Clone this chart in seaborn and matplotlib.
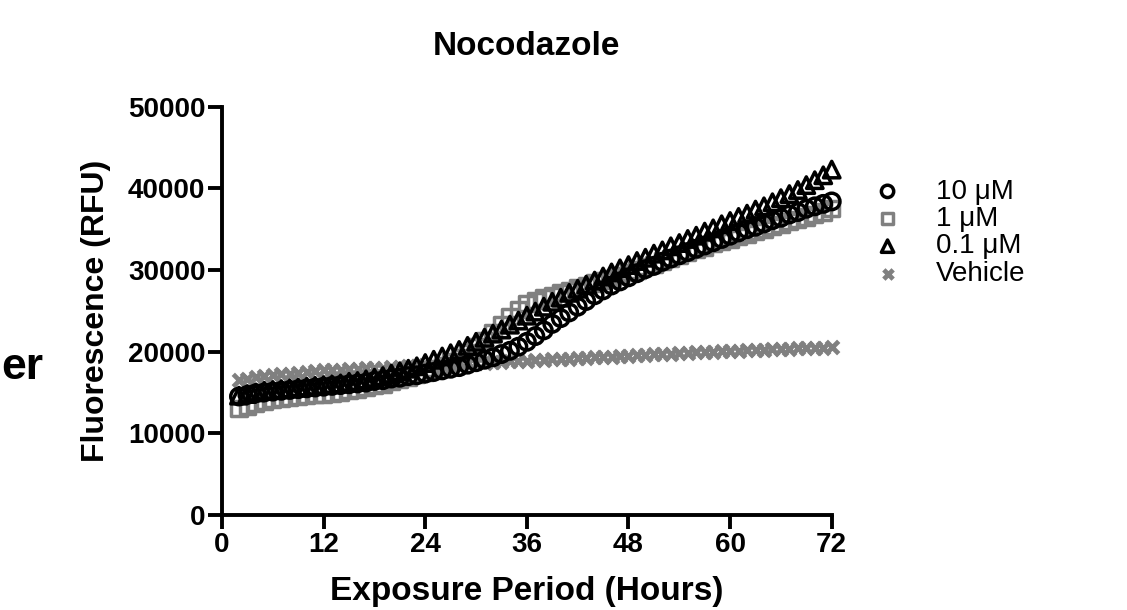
import numpy as np
import pandas as pd
import seaborn as sns
import matplotlib.pyplot as plt

hours = list(range(2, 73))

vehicle = [16500, 16700, 16900, 17000, 17100, 17200, 17300, 17400, 17500, 17600,
           17700, 17750, 17800, 17850, 17900, 17950, 18000, 18050, 18100, 18150,
           18200, 18250, 18300, 18350, 18400, 18450, 18500, 18550, 18600, 18650,
           18700, 18750, 18800, 18850, 18900, 18950, 19000, 19050, 19100, 19150,
           19200, 19250, 19300, 19350, 19400, 19450, 19500, 19550, 19600, 19650,
           19700, 19750, 19800, 19850, 19900, 19950, 20000, 20050, 20100, 20100,
           20150, 20200, 20250, 20300, 20300, 20350, 20400, 20450, 20500, 20500, 20550]

um10 = [14500, 14700, 14900, 15000, 15100, 15200, 15300, 15400, 15500, 15600,
        15700, 15800, 15900, 16000, 16100, 16200, 16400, 16500, 16700, 16800,
        17000, 17100, 17300, 17500, 17700, 17900, 18100, 18400, 18700, 19000,
        19300, 19700, 20100, 20600, 21200, 21900, 22600, 23400, 24100, 24800,
        25500, 26200, 26900, 27500, 28100, 28600, 29100, 29600, 30100, 30500,
        31000, 31400, 31800, 32200, 32600, 33000, 33400, 33800, 34200, 34600,
        35000, 35300, 35700, 36100, 36400, 36800, 37100, 37500, 37800, 38100, 38400]

um1 = [13000, 13300, 13600, 13900, 14100, 14300, 14400, 14500, 14600, 14700,
       14800, 14900, 15000, 15200, 15400, 15600, 15800, 16000, 16300, 16600,
       16900, 17200, 17500, 17900, 18300, 18800, 19300, 19900, 20600, 21400,
       22300, 23300, 24300, 25200, 25900, 26300, 26600, 26900, 27200, 27500,
       27800, 28100, 28400, 28700, 29000, 29300, 29700, 30000, 30400, 30700,
       31100, 31400, 31800, 32100, 32500, 32800, 33200, 33500, 33800, 34100,
       34400, 34700, 35000, 35300, 35600, 35900, 36200, 36500, 36800, 37100, 37500]

um01 = [14600, 14800, 15000, 15200, 15300, 15400, 15500, 15600, 15700, 15800,
        15900, 16000, 16100, 16300, 16400, 16600, 16800, 17000, 17300, 17600,
        17900, 18200, 18600, 19000, 19400, 19800, 20200, 20700, 21200, 21700,
        22200, 22700, 23300, 23800, 24400, 24900, 25500, 26100, 26600, 27200,
        27700, 28200, 28700, 29200, 29700, 30200, 30600, 31100, 31500, 32000,
        32400, 32900, 33300, 33800, 34200, 34700, 35100, 35600, 36000, 36500,
        36900, 37400, 37800, 38300, 38800, 39300, 39800, 40400, 41000, 41600, 42300]

labels = ["10 μM", "1 μM", "0.1 μM", "Vehicle"]
GRAY = "#808080"

sns.set_theme(style="ticks")
plt.rcParams["font.family"] = ["Liberation Sans", "DejaVu Sans"]
plt.rcParams.update({
    "text.color": "black",
    "axes.labelcolor": "black",
    "axes.edgecolor": "black",
    "xtick.color": "black",
    "ytick.color": "black",
})

fig = plt.figure(figsize=(11.27, 6.10), dpi=100)
ax = fig.add_axes([0.197, 0.156, 0.541, 0.669])

series = {
    "Vehicle": (vehicle, "x", GRAY, 80),
    "1 μM": (um1, "s", GRAY, 120),
    "10 μM": (um10, "o", "black", 140),
    "0.1 μM": (um01, "^", "black", 140),
}
for name, (vals, mk, col, sz) in series.items():
    df = pd.DataFrame({"hours": hours, "rfu": vals})
    if mk == "x":
        sns.scatterplot(data=df, x="hours", y="rfu", marker=mk, color=col, s=sz,
                        linewidth=3.4, ax=ax, clip_on=False, label=name, zorder=3)
    else:
        sns.scatterplot(data=df, x="hours", y="rfu", marker=mk, color=col, s=sz,
                        facecolor="none", edgecolor=col, linewidth=2.5, ax=ax,
                        clip_on=False, label=name, zorder=3)

h, l = ax.get_legend_handles_labels()
lut = dict(zip(l, h))
ax.legend([lut[k] for k in labels], labels, loc="upper left",
          bbox_to_anchor=(1.005, 0.885), frameon=False, fontsize=20,
          handletextpad=0.75, labelspacing=0.05, markerscale=0.75)

ax.set_xlim(0, 72)
ax.set_ylim(0, 50000)
ax.set_xticks(range(0, 73, 12))
ax.set_yticks(range(0, 50001, 10000))
for s in ["top", "right"]:
    ax.spines[s].set_visible(False)
for s in ["left", "bottom"]:
    ax.spines[s].set_linewidth(2.8)
ax.tick_params(axis="both", direction="out", length=10, width=2.8, labelsize=20, pad=2)
for t in ax.get_xticklabels() + ax.get_yticklabels():
    t.set_fontweight("bold")

ax.set_xlabel("Exposure Period (Hours)", fontsize=24, fontweight="bold", labelpad=13)
ax.set_ylabel("Fluorescence (RFU)", fontsize=23, fontweight="bold", labelpad=12)
ax.set_title("Nocodazole", fontsize=24, fontweight="bold", pad=37)

fig.text(0.001, 0.398, "er", fontsize=32, fontweight="bold", ha="left", va="center")

fig.savefig("out.png", dpi=100)
